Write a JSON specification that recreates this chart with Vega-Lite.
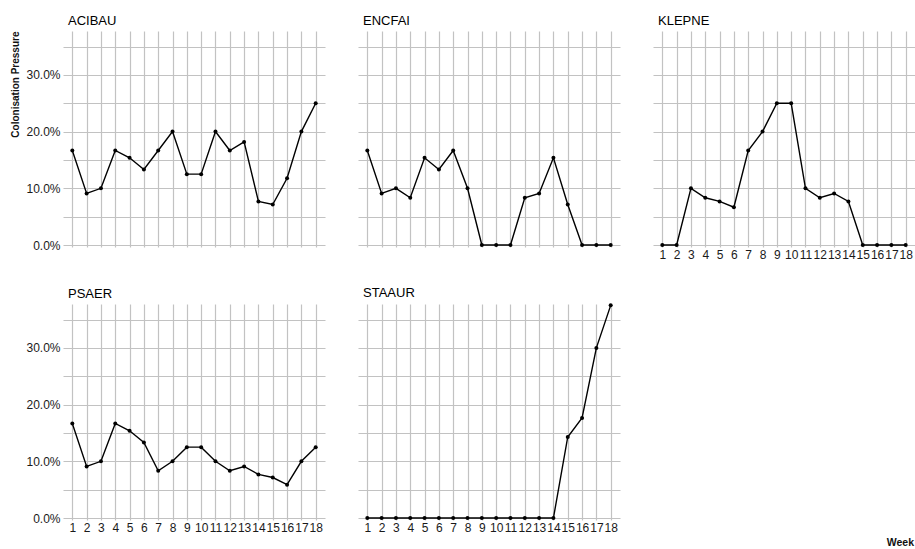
{
  "$schema": "https://vega.github.io/schema/vega-lite/v6.json",
  "background": "white",
  "padding": {"left": 10, "top": 15, "right": 0, "bottom": 0},
  "title": {"text": "Week", "orient": "bottom", "anchor": "end", "frame": "bounds", "fontSize": 10.5, "fontWeight": "bold", "font": "Liberation Sans", "color": "#111", "offset": 5, "dx": -1},
  "datasets": {
    "cp": [
      {"org": "ACIBAU", "week": 1, "cp": 0.1667}, {"org": "ACIBAU", "week": 2, "cp": 0.0909}, {"org": "ACIBAU", "week": 3, "cp": 0.1},
      {"org": "ACIBAU", "week": 4, "cp": 0.1667}, {"org": "ACIBAU", "week": 5, "cp": 0.1538}, {"org": "ACIBAU", "week": 6, "cp": 0.1333},
      {"org": "ACIBAU", "week": 7, "cp": 0.1667}, {"org": "ACIBAU", "week": 8, "cp": 0.2}, {"org": "ACIBAU", "week": 9, "cp": 0.125},
      {"org": "ACIBAU", "week": 10, "cp": 0.125}, {"org": "ACIBAU", "week": 11, "cp": 0.2}, {"org": "ACIBAU", "week": 12, "cp": 0.1667},
      {"org": "ACIBAU", "week": 13, "cp": 0.1818}, {"org": "ACIBAU", "week": 14, "cp": 0.0769}, {"org": "ACIBAU", "week": 15, "cp": 0.0714},
      {"org": "ACIBAU", "week": 16, "cp": 0.1176}, {"org": "ACIBAU", "week": 17, "cp": 0.2}, {"org": "ACIBAU", "week": 18, "cp": 0.25},
      {"org": "ENCFAI", "week": 1, "cp": 0.1667}, {"org": "ENCFAI", "week": 2, "cp": 0.0909}, {"org": "ENCFAI", "week": 3, "cp": 0.1},
      {"org": "ENCFAI", "week": 4, "cp": 0.0833}, {"org": "ENCFAI", "week": 5, "cp": 0.1538}, {"org": "ENCFAI", "week": 6, "cp": 0.1333},
      {"org": "ENCFAI", "week": 7, "cp": 0.1667}, {"org": "ENCFAI", "week": 8, "cp": 0.1}, {"org": "ENCFAI", "week": 9, "cp": 0},
      {"org": "ENCFAI", "week": 10, "cp": 0}, {"org": "ENCFAI", "week": 11, "cp": 0}, {"org": "ENCFAI", "week": 12, "cp": 0.0833},
      {"org": "ENCFAI", "week": 13, "cp": 0.0909}, {"org": "ENCFAI", "week": 14, "cp": 0.1538}, {"org": "ENCFAI", "week": 15, "cp": 0.0714},
      {"org": "ENCFAI", "week": 16, "cp": 0}, {"org": "ENCFAI", "week": 17, "cp": 0}, {"org": "ENCFAI", "week": 18, "cp": 0},
      {"org": "KLEPNE", "week": 1, "cp": 0}, {"org": "KLEPNE", "week": 2, "cp": 0}, {"org": "KLEPNE", "week": 3, "cp": 0.1},
      {"org": "KLEPNE", "week": 4, "cp": 0.0833}, {"org": "KLEPNE", "week": 5, "cp": 0.0769}, {"org": "KLEPNE", "week": 6, "cp": 0.0667},
      {"org": "KLEPNE", "week": 7, "cp": 0.1667}, {"org": "KLEPNE", "week": 8, "cp": 0.2}, {"org": "KLEPNE", "week": 9, "cp": 0.25},
      {"org": "KLEPNE", "week": 10, "cp": 0.25}, {"org": "KLEPNE", "week": 11, "cp": 0.1}, {"org": "KLEPNE", "week": 12, "cp": 0.0833},
      {"org": "KLEPNE", "week": 13, "cp": 0.0909}, {"org": "KLEPNE", "week": 14, "cp": 0.0769}, {"org": "KLEPNE", "week": 15, "cp": 0},
      {"org": "KLEPNE", "week": 16, "cp": 0}, {"org": "KLEPNE", "week": 17, "cp": 0}, {"org": "KLEPNE", "week": 18, "cp": 0},
      {"org": "PSAER", "week": 1, "cp": 0.1667}, {"org": "PSAER", "week": 2, "cp": 0.0909}, {"org": "PSAER", "week": 3, "cp": 0.1},
      {"org": "PSAER", "week": 4, "cp": 0.1667}, {"org": "PSAER", "week": 5, "cp": 0.1538}, {"org": "PSAER", "week": 6, "cp": 0.1333},
      {"org": "PSAER", "week": 7, "cp": 0.0833}, {"org": "PSAER", "week": 8, "cp": 0.1}, {"org": "PSAER", "week": 9, "cp": 0.125},
      {"org": "PSAER", "week": 10, "cp": 0.125}, {"org": "PSAER", "week": 11, "cp": 0.1}, {"org": "PSAER", "week": 12, "cp": 0.0833},
      {"org": "PSAER", "week": 13, "cp": 0.0909}, {"org": "PSAER", "week": 14, "cp": 0.0769}, {"org": "PSAER", "week": 15, "cp": 0.0714},
      {"org": "PSAER", "week": 16, "cp": 0.0588}, {"org": "PSAER", "week": 17, "cp": 0.1}, {"org": "PSAER", "week": 18, "cp": 0.125},
      {"org": "STAAUR", "week": 1, "cp": 0}, {"org": "STAAUR", "week": 2, "cp": 0}, {"org": "STAAUR", "week": 3, "cp": 0},
      {"org": "STAAUR", "week": 4, "cp": 0}, {"org": "STAAUR", "week": 5, "cp": 0}, {"org": "STAAUR", "week": 6, "cp": 0},
      {"org": "STAAUR", "week": 7, "cp": 0}, {"org": "STAAUR", "week": 8, "cp": 0}, {"org": "STAAUR", "week": 9, "cp": 0},
      {"org": "STAAUR", "week": 10, "cp": 0}, {"org": "STAAUR", "week": 11, "cp": 0}, {"org": "STAAUR", "week": 12, "cp": 0},
      {"org": "STAAUR", "week": 13, "cp": 0}, {"org": "STAAUR", "week": 14, "cp": 0}, {"org": "STAAUR", "week": 15, "cp": 0.1429},
      {"org": "STAAUR", "week": 16, "cp": 0.1765}, {"org": "STAAUR", "week": 17, "cp": 0.3}, {"org": "STAAUR", "week": 18, "cp": 0.375}
    ]
  },
  "columns": 3,
  "bounds": "flush",
  "spacing": {"column": 33, "row": 57},
  "concat": [
    {
      "title": {"text": "ACIBAU"},
      "width": 262, "height": 216,
      "data": {"name": "cp"},
      "transform": [{"filter": "datum.org === 'ACIBAU'"}],
      "encoding": {
        "x": {"field": "week", "type": "quantitative", "scale": {"domain": [0.35, 18.65], "nice": false, "zero": false}, "axis": {"labels": false, "values": [1, 2, 3, 4, 5, 6, 7, 8, 9, 10, 11, 12, 13, 14, 15, 16, 17, 18]}},
        "y": {"field": "cp", "type": "quantitative", "scale": {"domain": [-0.0035, 0.3774], "nice": false, "zero": false}, "axis": {"title": "Colonisation Pressure", "values": [0, 0.05, 0.1, 0.15, 0.2, 0.25, 0.3, 0.35]}}
      },
      "layer": [{"mark": {"type": "line", "color": "black", "strokeWidth": 1.4}}, {"mark": {"type": "circle", "color": "black", "size": 16, "opacity": 1}}]
    },
    {
      "title": {"text": "ENCFAI"},
      "width": 262, "height": 216,
      "data": {"name": "cp"},
      "transform": [{"filter": "datum.org === 'ENCFAI'"}],
      "encoding": {
        "x": {"field": "week", "type": "quantitative", "scale": {"domain": [0.35, 18.65], "nice": false, "zero": false}, "axis": {"labels": false, "values": [1, 2, 3, 4, 5, 6, 7, 8, 9, 10, 11, 12, 13, 14, 15, 16, 17, 18]}},
        "y": {"field": "cp", "type": "quantitative", "scale": {"domain": [-0.0035, 0.3774], "nice": false, "zero": false}, "axis": {"labels": false, "values": [0, 0.05, 0.1, 0.15, 0.2, 0.25, 0.3, 0.35]}}
      },
      "layer": [{"mark": {"type": "line", "color": "black", "strokeWidth": 1.4}}, {"mark": {"type": "circle", "color": "black", "size": 16, "opacity": 1}}]
    },
    {
      "title": {"text": "KLEPNE"},
      "width": 262, "height": 216,
      "data": {"name": "cp"},
      "transform": [{"filter": "datum.org === 'KLEPNE'"}],
      "encoding": {
        "x": {"field": "week", "type": "quantitative", "scale": {"domain": [0.35, 18.65], "nice": false, "zero": false}, "axis": {"values": [1, 2, 3, 4, 5, 6, 7, 8, 9, 10, 11, 12, 13, 14, 15, 16, 17, 18]}},
        "y": {"field": "cp", "type": "quantitative", "scale": {"domain": [-0.0035, 0.3774], "nice": false, "zero": false}, "axis": {"labels": false, "values": [0, 0.05, 0.1, 0.15, 0.2, 0.25, 0.3, 0.35]}}
      },
      "layer": [{"mark": {"type": "line", "color": "black", "strokeWidth": 1.4}}, {"mark": {"type": "circle", "color": "black", "size": 16, "opacity": 1}}]
    },
    {
      "title": {"text": "PSAER"},
      "width": 262, "height": 216,
      "data": {"name": "cp"},
      "transform": [{"filter": "datum.org === 'PSAER'"}],
      "encoding": {
        "x": {"field": "week", "type": "quantitative", "scale": {"domain": [0.35, 18.65], "nice": false, "zero": false}, "axis": {"values": [1, 2, 3, 4, 5, 6, 7, 8, 9, 10, 11, 12, 13, 14, 15, 16, 17, 18]}},
        "y": {"field": "cp", "type": "quantitative", "scale": {"domain": [-0.0035, 0.3774], "nice": false, "zero": false}, "axis": {"values": [0, 0.05, 0.1, 0.15, 0.2, 0.25, 0.3, 0.35]}}
      },
      "layer": [{"mark": {"type": "line", "color": "black", "strokeWidth": 1.4}}, {"mark": {"type": "circle", "color": "black", "size": 16, "opacity": 1}}]
    },
    {
      "title": {"text": "STAAUR"},
      "width": 262, "height": 216,
      "data": {"name": "cp"},
      "transform": [{"filter": "datum.org === 'STAAUR'"}],
      "encoding": {
        "x": {"field": "week", "type": "quantitative", "scale": {"domain": [0.35, 18.65], "nice": false, "zero": false}, "axis": {"values": [1, 2, 3, 4, 5, 6, 7, 8, 9, 10, 11, 12, 13, 14, 15, 16, 17, 18]}},
        "y": {"field": "cp", "type": "quantitative", "scale": {"domain": [-0.0035, 0.3774], "nice": false, "zero": false}, "axis": {"labels": false, "values": [0, 0.05, 0.1, 0.15, 0.2, 0.25, 0.3, 0.35]}}
      },
      "layer": [{"mark": {"type": "line", "color": "black", "strokeWidth": 1.4}}, {"mark": {"type": "circle", "color": "black", "size": 16, "opacity": 1}}]
    }
  ],
  "config": {
    "view": {"stroke": null},
    "font": "Liberation Sans",
    "title": {"anchor": "start", "frame": "group", "fontSize": 13, "fontWeight": "normal", "color": "#000", "dx": 5, "offset": 3},
    "axis": {"domain": false, "ticks": false, "gridColor": "#c2c2c2", "gridWidth": 1.2, "gridOpacity": 1, "labelFont": "Liberation Sans", "labelFontSize": 12, "labelColor": "#1a1a1a", "labelPadding": 3, "title": null},
    "axisX": {"labelFlush": false, "labelOverlap": false, "labelPadding": 2},
    "axisY": {"labelExpr": "round(datum.value * 1000) % 100 == 0 ? format(datum.value, '.1%') : ''", "labelOverlap": false, "titleFont": "Liberation Sans", "titleFontSize": 10, "titleFontWeight": "bold", "titleColor": "#111", "titleAnchor": "end", "titlePadding": 5}
  }
}
